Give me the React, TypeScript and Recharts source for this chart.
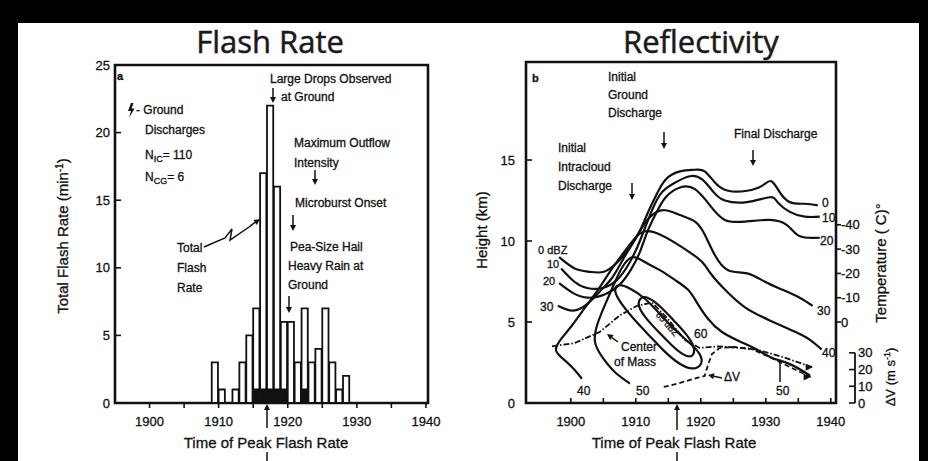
import React from 'react';
import { ComposedChart, Bar, Line, XAxis, YAxis, ReferenceArea } from 'recharts';

// ---------- Panel a: lightning flash rate (1-min bins) ----------
const flashBinStart = [1909, 1910, 1911, 1912, 1913, 1914, 1915, 1916, 1917, 1918, 1919, 1920, 1921, 1922, 1923, 1924, 1925, 1926, 1927, 1928];
const totalFlashRate = [3, 1, 0, 1, 3, 5, 7, 17, 22, 16, 6, 6, 3, 7, 3, 4, 7, 3, 1, 2];
const groundFlashRate = [0, 0, 0, 0, 0, 0, 1, 1, 1, 1, 1, 0, 0, 1, 0, 0, 0, 0, 0, 0];
const timeTicks = [1900, 1905, 1910, 1915, 1920, 1925, 1930, 1935, 1940];
const flashRateTicks = [0, 5, 10, 15, 20, 25];

// ---------- Panel b: reflectivity contours (time, height km) ----------
const heightTicks = [0, 5, 10, 15];
const temperatureTicks = [-40, -30, -20, -10, 0];
const dvTicks = [0, 10, 20, 30];

const dbz0: number[][] = [
  [1898.2, 9.0], [1900.6, 8.3], [1902.9, 8.1], [1905.1, 8.1], [1907.2, 8.7], [1909.1, 9.6], [1910.6, 10.6],
  [1911.8, 11.7], [1913.1, 12.8], [1914.6, 13.8], [1916.8, 14.3], [1919.1, 14.4], [1920.6, 14.3], [1922.2, 13.6],
  [1924.2, 13.1], [1927.1, 13.1], [1929.4, 13.4], [1930.8, 13.7], [1932.0, 13.1], [1933.7, 12.4], [1936.0, 12.3], [1938.0, 12.2],
];
const dbz10: number[][] = [
  [1898.5, 8.3], [1900.5, 7.5], [1902.5, 7.1], [1904.9, 7.1], [1907.1, 7.6], [1908.8, 8.5], [1910.2, 9.6],
  [1911.4, 10.8], [1912.6, 12.0], [1914.0, 13.0], [1916.0, 13.6], [1918.3, 14.0], [1920.2, 13.8], [1922.0, 13.0],
  [1923.7, 12.5], [1927.1, 12.4], [1930.6, 12.7], [1931.8, 12.4], [1933.7, 11.8], [1936.0, 11.5], [1938.3, 11.5],
];
const dbz20: number[][] = [
  [1898.2, 7.4], [1900.3, 6.8], [1902.6, 6.5], [1905.2, 6.7], [1907.5, 7.3], [1909.2, 8.2], [1910.6, 9.3],
  [1911.8, 10.6], [1913.1, 11.7], [1914.6, 12.7], [1916.8, 13.3], [1919.1, 13.2], [1921.4, 12.2], [1923.7, 11.3],
  [1926.8, 11.2], [1930.6, 11.3], [1933.2, 11.0], [1934.8, 10.4], [1936.5, 10.2], [1938.3, 10.2],
];
const dbz30: number[][] = [
  [1898.0, 6.0], [1900.3, 5.7], [1902.5, 6.1], [1904.5, 6.9], [1906.3, 7.7], [1907.8, 8.7], [1909.4, 9.8],
  [1910.9, 10.8], [1912.5, 11.6], [1914.5, 11.9], [1916.8, 11.6], [1919.1, 11.2], [1920.6, 10.4], [1922.2, 9.1],
  [1924.2, 8.2], [1927.1, 8.0], [1929.8, 7.5], [1932.5, 7.0], [1935.2, 6.5], [1937.2, 6.0],
];
const dbz40: number[][] = [
  [1901.7, 1.5], [1900.2, 2.2], [1898.6, 2.8], [1897.7, 3.3], [1898.6, 4.0], [1900.2, 4.8], [1902.2, 5.9],
  [1904.2, 7.0], [1906.0, 8.1], [1907.8, 9.1], [1909.7, 10.1], [1911.5, 10.6], [1913.7, 10.4], [1916.0, 9.9],
  [1918.3, 9.3], [1920.2, 8.7], [1921.7, 7.9], [1923.7, 7.0], [1926.8, 5.9], [1930.6, 5.1], [1934.5, 4.4],
  [1936.8, 3.9], [1938.6, 3.3],
];
const dbz50: number[][] = [
  [1909.1, 1.2], [1906.8, 1.9], [1904.9, 2.8], [1903.7, 3.8], [1904.2, 5.0], [1905.4, 6.2], [1906.6, 7.3],
  [1907.8, 8.3], [1909.4, 9.0], [1911.4, 8.7], [1913.7, 8.2], [1916.0, 7.6], [1918.0, 7.0], [1919.4, 6.2],
  [1921.1, 5.2], [1923.2, 4.4], [1926.0, 3.8], [1928.6, 3.3], [1930.9, 2.8], [1933.7, 2.4], [1936.8, 1.7],
];
const dbz60Loop: number[][] = [
  [1907.1, 7.4], [1909.1, 7.1], [1911.4, 6.5], [1913.7, 5.5], [1916.0, 4.5], [1918.3, 3.7], [1919.9, 3.1],
  [1920.4, 2.4], [1918.8, 2.0], [1916.6, 2.4], [1914.3, 3.2], [1912.0, 4.2], [1909.6, 5.2], [1907.6, 6.2], [1906.6, 6.9],
];
const dbz65Loop: number[][] = [
  [1911.8, 6.6], [1914.0, 5.9], [1915.8, 5.1], [1917.7, 4.3], [1919.1, 3.5], [1918.9, 2.8],
  [1917.4, 2.9], [1915.4, 3.6], [1913.7, 4.3], [1911.8, 5.1], [1910.3, 5.9], [1910.5, 6.5],
];
const centerOfMass: number[][] = [
  [1897.1, 3.5], [1900.6, 3.7], [1904.5, 4.4], [1907.5, 5.4], [1910.2, 6.0], [1912.5, 6.2], [1914.9, 5.2],
  [1917.5, 3.9], [1919.8, 3.4], [1922.9, 3.5], [1926.0, 3.4], [1928.6, 3.3], [1932.9, 2.8], [1937.2, 2.2],
];
// outflow velocity differential (m/s)
const deltaV: number[][] = [
  [1914.3, 9.6], [1916.8, 12.0], [1919.4, 15.0], [1920.6, 16.2], [1921.1, 22.7], [1921.7, 29.3], [1922.9, 32.9],
  [1925.2, 33.5], [1927.8, 32.3], [1930.6, 27.5], [1933.7, 21.5], [1936.9, 15.6],
];

// ---------- layout / styling ----------
const SANS = "'Liberation Sans', Arial, Helvetica, sans-serif";
const INK = '#111';

const X_MIN_A = 1895;
const X_MAX_A = 1940.3;
const PLOT_W_A = 313;
const BAR_PX = PLOT_W_A / (X_MAX_A - X_MIN_A);

const X_MIN_B = 1893.1;
const X_MAX_B = 1940.8;
const Y_MAX_B = 21.05;
const PLOT_H_B = 341;
const DV_MAX = 204;
// standard-atmosphere temperature on the height scale
const tempAt = (h: number) => 33.33 - h * 6.667;

const toHeight = (pts: number[][]) => pts.map(([t, h]) => ({ t, h }));
const toDv = (pts: number[][]) => pts.map(([t, dv]) => ({ t, dv }));

const flashRows = flashBinStart.map((t, i) => ({
  t: t + 0.5,
  cg: groundFlashRate[i],
  ic: totalFlashRate[i] - groundFlashRate[i],
}));

const tickText = { fontSize: 13, fill: INK, fontFamily: SANS, stroke: INK, strokeWidth: 0.3 };

const LeftTick = ({ x, y, payload, gap = 5 }: any) => (
  <g>
    <line x1={x} x2={x + 6} y1={y} y2={y} stroke={INK} strokeWidth={1.6} />
    <text x={x - gap} y={y + 4.5} textAnchor="end" style={tickText}>{payload.value}</text>
  </g>
);

const BottomTick = ({ x, y, payload, inward = false }: any) => (
  <g>
    <line x1={x} x2={x} y1={y} y2={inward ? y - 5 : y + 5} stroke={INK} strokeWidth={1.6} />
    {payload.value % 10 === 0 ? (
      <text x={x} y={y + 23} textAnchor="middle" style={tickText}>{payload.value}</text>
    ) : null}
  </g>
);

const TempTick = ({ x, y, payload }: any) => (
  <g>
    <line x1={x} x2={x + 5} y1={y} y2={y} stroke={INK} strokeWidth={1.6} />
    <text x={x + 5} y={y + 4.5} textAnchor="start" style={tickText}>{payload.value}</text>
  </g>
);

const DvTick = ({ x, y, payload }: any) => {
  const step = (10 * PLOT_H_B) / DV_MAX;
  return (
    <g>
      <line x1={x - 6} x2={x} y1={y} y2={y} stroke={INK} strokeWidth={1.6} />
      {payload.value < 30 ? <line x1={x} x2={x} y1={y} y2={y - step} stroke={INK} strokeWidth={1.8} /> : null}
      <text x={x + 3} y={y + 4.5} textAnchor="start" style={tickText}>{payload.value}</text>
    </g>
  );
};

const endArrow = (last: number) => (p: any) =>
  p.index === last ? (
    <path key={`a${p.index}`} d={`M${p.cx},${p.cy} l-7,-3.5 l0,7 z`} fill={INK} />
  ) : (
    <g key={`a${p.index}`} />
  );

function FlashRatePanel() {
  return (
    <ComposedChart width={464} height={461} data={flashRows} margin={{ top: 65, right: 36, bottom: 28, left: 75 }}>
      <XAxis
        dataKey="t" type="number" domain={[X_MIN_A, X_MAX_A]} ticks={timeTicks} interval={0}
        tickSize={0} tickMargin={0} tickLine={false} axisLine={false} tick={<BottomTick />} height={30} allowDataOverflow
      />
      <YAxis
        type="number" domain={[0, 25]} ticks={flashRateTicks} interval={0} width={40}
        tickSize={0} tickMargin={0} tickLine={false} axisLine={false} tick={<LeftTick gap={5} />} allowDataOverflow
      />
      <Bar dataKey="cg" stackId="f" fill={INK} stroke={INK} strokeWidth={1.4} barSize={BAR_PX} isAnimationActive={false} />
      <Bar dataKey="ic" stackId="f" fill="#fff" stroke={INK} strokeWidth={1.8} barSize={BAR_PX} isAnimationActive={false} />
      <ReferenceArea x1={X_MIN_A} x2={X_MAX_A} y1={0} y2={25} fill="none" fillOpacity={0} stroke={INK} strokeWidth={2.6} ifOverflow="visible" />
    </ComposedChart>
  );
}

const contourStyle = { stroke: INK, strokeWidth: 2.2, dot: false, isAnimationActive: false } as const;

function ReflectivityPanel() {
  const contours = [dbz0, dbz10, dbz20, dbz30, dbz40, dbz50];
  return (
    <ComposedChart width={464} height={461} margin={{ top: 62, right: 43, bottom: 28, left: 22 }}>
      <XAxis
        dataKey="t" type="number" domain={[X_MIN_B, X_MAX_B]} ticks={timeTicks} interval={0}
        tickSize={0} tickMargin={0} tickLine={false} axisLine={false} tick={<BottomTick inward />} height={30} allowDataOverflow
      />
      <YAxis
        yAxisId="h" type="number" domain={[0, Y_MAX_B]} ticks={heightTicks} interval={0} width={40}
        tickSize={0} tickMargin={0} tickLine={false} axisLine={false} tick={<LeftTick gap={11} />} allowDataOverflow
      />
      <YAxis
        yAxisId="b-dv" orientation="right" type="number" domain={[0, DV_MAX]} ticks={dvTicks} interval={0} width={30}
        tickSize={0} tickMargin={0} tickLine={false} axisLine={false} tick={<DvTick />} allowDataOverflow
      />
      <YAxis
        yAxisId="a-temp" orientation="right" type="number" reversed domain={[tempAt(Y_MAX_B), tempAt(0)]}
        ticks={temperatureTicks} interval={0} width={19} tickSize={0} tickMargin={0} tickLine={false} axisLine={false}
        tick={<TempTick />} allowDataOverflow
      />
      <ReferenceArea yAxisId="h" x1={X_MIN_B} x2={X_MAX_B} y1={0} y2={Y_MAX_B} fill="none" fillOpacity={0} stroke={INK} strokeWidth={2.6} ifOverflow="visible" />
      {contours.map((c, i) => (
        <Line key={`c${i}`} yAxisId="h" data={toHeight(c)} dataKey="h" type="natural" {...contourStyle} />
      ))}
      <Line yAxisId="h" data={toHeight(dbz60Loop)} dataKey="h" type="basisClosed" {...contourStyle} />
      <Line yAxisId="h" data={toHeight(dbz65Loop)} dataKey="h" type="basisClosed" {...contourStyle} />
      <Line
        yAxisId="h" data={toHeight(centerOfMass)} dataKey="h" type="linear" stroke={INK} strokeWidth={1.8}
        strokeDasharray="6 2 1.5 2" dot={endArrow(centerOfMass.length - 1)} isAnimationActive={false}
      />
      <Line
        yAxisId="b-dv" data={toDv(deltaV)} dataKey="dv" type="linear" stroke={INK} strokeWidth={1.8}
        strokeDasharray="5 3" dot={endArrow(deltaV.length - 1)} isAnimationActive={false}
      />
    </ComposedChart>
  );
}

const Txt = ({ x, y, children, size = 12, anchor = 'start', rotate, bold }: any) => (
  <text
    x={x} y={y} fontSize={size} textAnchor={anchor} fill={INK} stroke={INK} strokeWidth={0.3}
    fontFamily={SANS} fontWeight={bold ? 700 : 400}
    transform={rotate ? `rotate(${rotate} ${x} ${y})` : undefined}
  >
    {children}
  </text>
);

const Arrow = ({ x1, y1, x2, y2, head = 6, w = 1.5 }: any) => {
  const a = Math.atan2(y2 - y1, x2 - x1);
  const hx = x2 - head * Math.cos(a);
  const hy = y2 - head * Math.sin(a);
  const px = -Math.sin(a) * head * 0.5;
  const py = Math.cos(a) * head * 0.5;
  return (
    <g>
      <line x1={x1} y1={y1} x2={hx} y2={hy} stroke={INK} strokeWidth={w} />
      <path d={`M${x2},${y2}L${hx + px},${hy + py}L${hx - px},${hy - py}Z`} fill={INK} />
    </g>
  );
};

const TITLE_FONT = "'Open Sans', 'Noto Sans', sans-serif";

function Annotations() {
  return (
    <svg width={928} height={461} style={{ position: 'absolute', left: 0, top: 0, pointerEvents: 'none' }}>
      {/* titles */}
      <text x={270} y={53} fontSize={31} textAnchor="middle" fill="#1a1a1a" stroke="#1a1a1a" strokeWidth={0.5} fontFamily={TITLE_FONT}>Flash Rate</text>
      <text x={701} y={53} fontSize={31} textAnchor="middle" fill="#1a1a1a" stroke="#1a1a1a" strokeWidth={0.5} fontFamily={TITLE_FONT}>Reflectivity</text>

      {/* panel a */}
      <Txt x={117} y={80} bold size={11}>a</Txt>
      <path d="M131,103 L128,111 L131,111 L129,118 L134.5,108.5 L131.5,108.5 L133.5,103 Z" fill={INK} />
      <Txt x={136} y={114}>- Ground</Txt>
      <Txt x={145} y={134}>Discharges</Txt>
      <Txt x={145} y={159}>N<tspan fontSize={9} dy={3}>IC</tspan><tspan dy={-3}>= 110</tspan></Txt>
      <Txt x={145} y={181}>N<tspan fontSize={9} dy={3}>CG</tspan><tspan dy={-3}>= 6</tspan></Txt>
      <Txt x={270} y={83}>Large Drops Observed</Txt>
      <Txt x={281} y={101}>at Ground</Txt>
      <Arrow x1={273} y1={88} x2={273} y2={103} />
      <Txt x={294} y={147}>Maximum Outflow</Txt>
      <Txt x={294} y={167}>Intensity</Txt>
      <Arrow x1={315} y1={170} x2={315} y2={185} />
      <Txt x={295} y={207}>Microburst Onset</Txt>
      <Arrow x1={293} y1={215} x2={293} y2={231} />
      <Txt x={290} y={251}>Pea-Size Hail</Txt>
      <Txt x={288} y={270}>Heavy Rain at</Txt>
      <Txt x={288} y={289}>Ground</Txt>
      <Arrow x1={289} y1={296} x2={289} y2={313} />
      <Txt x={177} y={252}>Total</Txt>
      <Txt x={177} y={272}>Flash</Txt>
      <Txt x={177} y={292}>Rate</Txt>
      <polyline points="204,247 225,238 232,229 230,240 252,225" fill="none" stroke={INK} strokeWidth={1.5} />
      <Arrow x1={250} y1={226} x2={260} y2={219} />
      <Txt x={68} y={236} size={15} anchor="middle" rotate={-90}>
        Total Flash Rate (min<tspan fontSize={10} dy={-5}>-1</tspan><tspan dy={5}>)</tspan>
      </Txt>
      <Txt x={266} y={448} size={15} anchor="middle">Time of Peak Flash Rate</Txt>
      <Arrow x1={267} y1={428} x2={267} y2={404} />
      <line x1={267} y1={452} x2={267} y2={461} stroke={INK} strokeWidth={1.5} />

      {/* panel b */}
      <Txt x={532} y={82} bold size={11}>b</Txt>
      <Txt x={608} y={81}>Initial</Txt>
      <Txt x={608} y={99}>Ground</Txt>
      <Txt x={608} y={117}>Discharge</Txt>
      <Arrow x1={664} y1={132} x2={664} y2={149} />
      <Txt x={734} y={138}>Final Discharge</Txt>
      <Arrow x1={753} y1={150} x2={753} y2={166} />
      <Txt x={558} y={152}>Initial</Txt>
      <Txt x={558} y={171}>Intracloud</Txt>
      <Txt x={558} y={190}>Discharge</Txt>
      <Arrow x1={632} y1={183} x2={632} y2={200} />

      <Txt x={538} y={254} size={11}>0 dBZ</Txt>
      <Txt x={547} y={268} size={11}>10</Txt>
      <Txt x={543} y={285} size={11}>20</Txt>
      <Txt x={540} y={311}>30</Txt>
      <Txt x={577} y={395}>40</Txt>
      <Txt x={636} y={395}>50</Txt>
      <Txt x={776} y={395}>50</Txt>
      <line x1={780} y1={362} x2={780} y2={382} stroke={INK} strokeWidth={1.5} />
      <Txt x={694} y={338}>60</Txt>
      <Txt x={665} y={326} size={9} anchor="middle" rotate={48}>65 dBZ</Txt>
      <Txt x={822} y={207}>0</Txt>
      <Txt x={822} y={222}>10</Txt>
      <Txt x={820} y={245}>20</Txt>
      <Txt x={817} y={315}>30</Txt>
      <Txt x={822} y={357}>40</Txt>
      <Txt x={621} y={351}>Center</Txt>
      <Txt x={614} y={366}>of Mass</Txt>
      <Arrow x1={618} y1={342} x2={607} y2={334} />
      <Txt x={724} y={381}>ΔV</Txt>
      <Arrow x1={722} y1={378} x2={708} y2={375} />

      <Txt x={487} y={230} size={15} anchor="middle" rotate={-90}>Height (km)</Txt>
      <Txt x={886} y={263} size={15} anchor="middle" rotate={-90}>Temperature ( C)°</Txt>
      <Txt x={895} y={377} size={13} anchor="middle" rotate={-90}>
        ΔV (m s<tspan fontSize={9} dy={-5}>-1</tspan><tspan dy={5}>)</tspan>
      </Txt>
      <Txt x={674} y={448} size={15} anchor="middle">Time of Peak Flash Rate</Txt>
      <Arrow x1={677} y1={430} x2={677} y2={404} />
      <line x1={677} y1={452} x2={677} y2={461} stroke={INK} strokeWidth={1.5} />
    </svg>
  );
}

export default function App() {
  return (
    <div style={{ position: 'absolute', left: 0, top: 0, width: 928, height: 461, background: '#000', overflow: 'hidden' }}>
      <div style={{ position: 'absolute', left: 18, top: 23, width: 901, height: 438, background: '#fff' }} />
      <div style={{ position: 'absolute', left: 0, top: 0 }}>
        <FlashRatePanel />
      </div>
      <div style={{ position: 'absolute', left: 464, top: 0 }}>
        <ReflectivityPanel />
      </div>
      <Annotations />
    </div>
  );
}
